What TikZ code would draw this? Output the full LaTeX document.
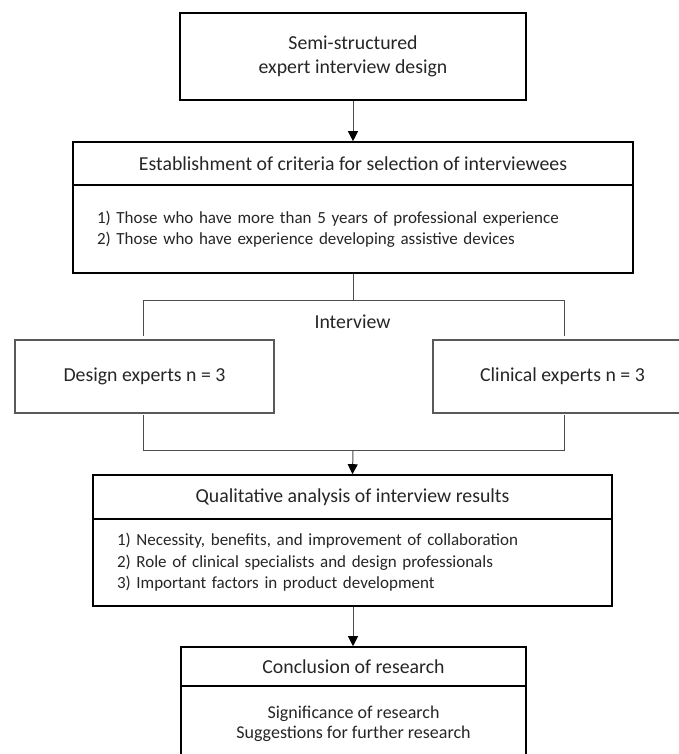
\documentclass[tikz,border=0pt]{standalone}
\usepackage{fontspec}
\setmainfont{Carlito}
\usetikzlibrary{arrows.meta}
\begin{document}
\begin{tikzpicture}[x=1pt,y=-1pt,
  mainbox/.style={draw=black, line width=1.6pt, rectangle, inner sep=0pt, align=center, text=black!85,
    font=\fontsize{19.8}{24}\selectfont},
  bodybox/.style={draw=black, line width=1.6pt, rectangle, inner xsep=24pt, inner ysep=0pt, align=left, text=black!85,
    font=\fontsize{17}{21.5}\selectfont},
  subbox/.style={draw=black!65, line width=1.2pt, rectangle, inner sep=0pt, align=center, text=black!85,
    minimum width=259pt, minimum height=73pt, font=\fontsize{19.8}{20}\selectfont},
  conn/.style={draw=black!70, line width=1pt},
  arr/.style={conn, -{Triangle[width=10pt,length=10pt,color=black]}},
  lbl/.style={inner sep=0pt, text=black!85, font=\fontsize{19.8}{20}\selectfont}
]
\useasboundingbox[fill=white] (0,0) rectangle (678,754);

% Box 1
\node[mainbox, minimum width=346pt, minimum height=87pt] (b1) at (353,56.5)
  {Semi-structured\\expert interview design};

% Box 2
\node[mainbox, minimum width=560pt, minimum height=43pt] (b2h) at (353,163.5)
  {Establishment of criteria for selection of interviewees};
\node[bodybox, text width=512pt, minimum height=88pt] (b2b) at (353,229)
  {1) Those who have more than 5 years of professional experience\\
   2) Those who have experience developing assistive devices};

% Interview split
\node[lbl] (iv) at (352.5,322) {Interview};
\node[subbox] (de) at (144.5,376.5) {Design experts n = 3};
\node[subbox] (ce) at (562.5,376.5) {Clinical experts n = 3};

% Box 3
\node[mainbox, minimum width=519pt, minimum height=44pt] (b3h) at (352.5,497)
  {Qualitative analysis of interview results};
\node[bodybox, text width=471pt, minimum height=87pt] (b3b) at (352.5,562.5)
  {1) Necessity, benefits, and improvement of collaboration\\
   2) Role of clinical specialists and design professionals\\
   3) Important factors in product development};

% Box 4
\node[mainbox, minimum width=345pt, minimum height=39pt] (b4h) at (353.5,666.5)
  {Conclusion of research};
\node[mainbox, minimum width=345pt, minimum height=76pt, font=\fontsize{18}{20.5}\selectfont] (b4b) at (353.5,724)
  {Significance of research\\Suggestions for further research};

% bracket coordinates
\coordinate (tj) at (353,300);
\coordinate (tl) at (143,300);
\coordinate (tr) at (564,300);
\coordinate (tld) at (143,336);
\coordinate (trd) at (564,336);
\coordinate (bl) at (143,450);
\coordinate (br) at (564,450);
\coordinate (blu) at (143,415);
\coordinate (bru) at (564,415);
\coordinate (bj) at (353,450);

% connectors
\draw[arr] (b1.south) -- (b2h.north);
\draw[conn] (b2b.south) -- (tj);
\draw[conn] (tld) -- (tl) -- (tr) -- (trd);
\draw[conn] (blu) -- (bl) -- (br) -- (bru);
\draw[arr] (bj) -- (b3h.north);
\draw[arr] (b3b.south -| b1.south) -- (b4h.north -| b1.south);
\end{tikzpicture}
\end{document}
